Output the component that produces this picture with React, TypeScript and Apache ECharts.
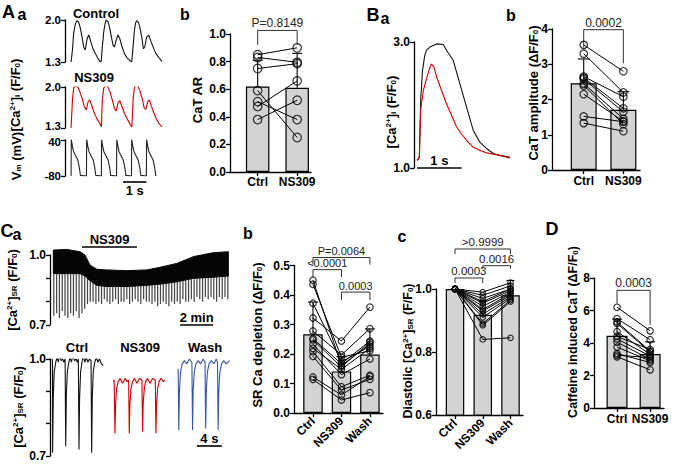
import React, { useEffect, useRef } from 'react';
import * as echarts from 'echarts';

const FONT = '"Liberation Sans", Arial, Helvetica, sans-serif';

// ===== Panel A a : traces (time s, value F/F0 or mV) =====
const aaControlTrace = [
  [0, 1.30], [0.06, 1.50], [0.11, 1.78], [0.19, 1.94], [0.26, 1.99], [0.33, 1.96], [0.40, 1.86], [0.47, 1.72], [0.54, 1.55], [0.61, 1.50], [0.69, 1.69], [0.76, 1.75], [0.83, 1.66], [0.94, 1.52], [1.04, 1.44], [1.14, 1.37], [1.23, 1.31],
  [1.29, 1.30], [1.34, 1.55], [1.40, 1.80], [1.46, 1.94], [1.51, 2.00], [1.59, 1.97], [1.66, 1.86], [1.73, 1.72], [1.80, 1.58], [1.86, 1.55], [1.93, 1.66], [2.01, 1.75], [2.09, 1.69], [2.19, 1.55], [2.29, 1.44], [2.40, 1.37], [2.54, 1.32],
  [2.60, 1.30], [2.66, 1.55], [2.71, 1.80], [2.76, 1.94], [2.81, 1.99], [2.89, 1.96], [2.96, 1.86], [3.03, 1.72], [3.10, 1.52], [3.16, 1.55], [3.24, 1.71], [3.33, 1.75], [3.41, 1.66], [3.53, 1.54], [3.64, 1.44], [3.77, 1.37], [3.90, 1.31],
];
const aaNs309Trace = [
  [0, 1.30], [0.06, 1.78], [0.11, 1.98], [0.20, 2.03], [0.29, 2.00], [0.37, 1.93], [0.47, 1.81], [0.57, 1.66], [0.66, 1.61], [0.73, 1.75], [0.80, 1.78], [0.89, 1.68], [1.00, 1.55], [1.11, 1.46], [1.23, 1.38], [1.30, 1.32],
  [1.34, 1.78], [1.40, 1.98], [1.49, 2.04], [1.57, 2.01], [1.66, 1.93], [1.76, 1.79], [1.86, 1.64], [1.94, 1.59], [2.01, 1.73], [2.09, 1.77], [2.17, 1.68], [2.29, 1.55], [2.40, 1.46], [2.54, 1.36], [2.61, 1.32],
  [2.66, 1.78], [2.71, 1.98], [2.79, 2.04], [2.87, 2.01], [2.96, 1.93], [3.06, 1.78], [3.14, 1.64], [3.21, 1.62], [3.29, 1.75], [3.36, 1.78], [3.44, 1.68], [3.56, 1.55], [3.69, 1.43], [3.80, 1.36], [3.90, 1.32],
];
const aaVmTrace = [
  [0, -80], [0.01, 42], [0.06, 18], [0.11, 1], [0.2, -13], [0.29, -27], [0.36, -54], [0.4, -78], [0.66, -80],
  [0.67, 42], [0.72, 18], [0.77, 1], [0.86, -13], [0.95, -27], [1.02, -54], [1.06, -78], [1.30, -80],
  [1.31, 42], [1.36, 18], [1.41, 1], [1.50, -13], [1.59, -27], [1.66, -54], [1.70, -78], [1.95, -80],
  [1.96, 42], [2.01, 18], [2.06, 1], [2.15, -13], [2.24, -27], [2.31, -54], [2.35, -78], [2.59, -80],
  [2.60, 42], [2.65, 18], [2.70, 1], [2.79, -13], [2.88, -27], [2.95, -54], [2.99, -78], [3.23, -80],
  [3.24, 42], [3.29, 18], [3.34, 1], [3.43, -13], [3.52, -27], [3.59, -54], [3.63, -78], [3.66, -80],
];
const aaCaTicks = [1.3, 2.0];
const aaVmTicks = [-80, 40];

// ===== Panel A b =====
const abGroups = ['Ctrl', 'NS309'];
const abMeans = [0.62, 0.61];
const abSd = [0.19, 0.25];
const abCtrl = [0.85, 0.83, 0.75, 0.59, 0.51, 0.475, 0.38];
const abNs309 = [0.90, 0.795, 0.785, 0.25, 0.38, 0.66, 0.52];
const abTicks = [0, 0.2, 0.4, 0.6, 0.8, 1.0];

// ===== Panel B a =====
const baCtrlTrace = [
  [0, 1.12], [0.05, 1.17], [0.08, 2.07], [0.12, 2.54], [0.17, 2.78], [0.21, 2.87], [0.29, 2.92], [0.44, 2.97], [0.59, 2.96], [0.66, 2.87], [0.81, 2.71], [0.96, 2.34], [1.11, 1.97], [1.26, 1.60], [1.41, 1.41], [1.56, 1.31], [1.71, 1.23], [1.86, 1.20], [2.09, 1.17],
];
const baNs309Trace = [
  [0, 1.12], [0.05, 1.17], [0.08, 1.92], [0.14, 2.23], [0.21, 2.42], [0.29, 2.60], [0.32, 2.65], [0.38, 2.60], [0.44, 2.44], [0.55, 2.23], [0.66, 2.02], [0.77, 1.84], [0.89, 1.65], [1.00, 1.54], [1.11, 1.44], [1.26, 1.33], [1.41, 1.28], [1.56, 1.24], [1.71, 1.22], [1.86, 1.20], [2.09, 1.16],
];
const baTicks = [1.0, 3.0];

// ===== Panel B b =====
const bbGroups = ['Ctrl', 'NS309'];
const bbMeans = [2.46, 1.71];
const bbSd = [0.69, 0.51];
const bbCtrl = [3.55, 3.30, 2.65, 2.62, 2.58, 2.45, 2.15, 2.40, 1.52, 1.33];
const bbNs309 = [2.80, 2.20, 2.08, 1.75, 1.65, 1.45, 1.38, 1.30, 1.37, 1.10];
const bbTicks = [0, 1, 2, 3, 4];

// ===== Panel C a =====
const caEnvTime = [0.02, 0.83, 1.64, 1.94, 2.24, 2.65, 3.25, 4.47, 5.68, 6.48, 7.5, 8.5, 9.72, 10.62];
const caEnvUpper = [1.021, 1.024, 1.014, 1.0, 0.957, 0.939, 0.936, 0.933, 0.936, 0.947, 0.964, 0.993, 1.01, 1.014];
const caEnvLower = [0.92, 0.92, 0.92, 0.91, 0.89, 0.87, 0.865, 0.865, 0.87, 0.875, 0.885, 0.9, 0.905, 0.91];
const caSpikeTime = [0.05, 0.22, 0.39, 0.56, 0.73, 0.9, 1.07, 1.24, 1.41, 1.58, 1.75, 1.92, 2.09, 2.26, 2.43, 2.6, 2.77, 2.94, 3.11, 3.28, 3.45, 3.62, 3.79, 3.96, 4.13, 4.3, 4.47, 4.64, 4.81, 4.98, 5.15, 5.32, 5.49, 5.66, 5.83, 6.0, 6.17, 6.34, 6.51, 6.68, 6.85, 7.02, 7.19, 7.36, 7.53, 7.7, 7.87, 8.04, 8.21, 8.38, 8.55, 8.72, 8.89, 9.06, 9.23, 9.4, 9.57, 9.74, 9.91, 10.08, 10.25, 10.42, 10.59];
const caSpikeMin = [0.74, 0.75, 0.73, 0.76, 0.74, 0.73, 0.75, 0.74, 0.76, 0.73, 0.75, 0.77,
  0.79, 0.80, 0.80, 0.79,
  0.80, 0.79, 0.81, 0.80, 0.79, 0.80, 0.81, 0.79, 0.80, 0.80, 0.81, 0.79, 0.80, 0.81, 0.80, 0.79, 0.81, 0.80, 0.80,
  0.79, 0.80, 0.78, 0.79, 0.80, 0.79, 0.78, 0.80, 0.79, 0.80, 0.79, 0.81, 0.80,
  0.80, 0.81, 0.80, 0.82, 0.81, 0.80, 0.82, 0.81, 0.82, 0.81, 0.80, 0.82, 0.81, 0.82, 0.81];
const caDrugBar = [1.76, 5.09, 1.034];
const caTopScale = [7.7, 9.7, 0.7];
const caTicks = [0.7, 0.8, 0.9, 1.0];
const caLabels = [0.7, 1.0];
const caCtrlTrace = [
  [0, 1.0], [0.08, 0.995], [0.1, 0.71], [0.2, 0.88], [0.35, 0.96], [0.6, 0.99], [0.8, 1.005], [1.0, 0.99], [1.2, 1.01], [1.45, 0.995], [1.7, 1.0], [1.9, 0.99], [2.1, 1.0],
  [2.19, 0.73], [2.3, 0.89], [2.45, 0.96], [2.7, 0.99], [2.9, 1.005], [3.1, 0.99], [3.35, 1.01], [3.6, 0.995], [3.85, 1.0], [4.05, 0.99], [4.22, 1.0],
  [4.32, 0.72], [4.42, 0.88], [4.58, 0.96], [4.8, 0.99], [5.0, 1.01], [5.25, 0.99], [5.5, 1.005], [5.75, 0.99], [6.0, 1.0], [6.25, 0.995],
  [6.35, 0.71], [6.45, 0.88], [6.6, 0.96], [6.85, 0.99], [7.1, 1.005], [7.35, 0.99], [7.6, 1.0], [7.9, 0.985], [8.2, 0.98],
];
const caNs309Trace = [
  [9.8, 0.93], [9.95, 0.935], [10.08, 0.77], [10.18, 0.86], [10.35, 0.91], [10.6, 0.93], [10.9, 0.94], [11.3, 0.925], [11.7, 0.94], [12.05, 0.93], [12.27, 0.935],
  [12.37, 0.77], [12.47, 0.86], [12.65, 0.91], [12.9, 0.93], [13.2, 0.94], [13.6, 0.925], [14.0, 0.94], [14.4, 0.935],
  [14.5, 0.775], [14.6, 0.86], [14.78, 0.91], [15.0, 0.93], [15.3, 0.94], [15.7, 0.925], [16.1, 0.94], [16.54, 0.935],
  [16.64, 0.77], [16.74, 0.86], [16.92, 0.91], [17.15, 0.93], [17.45, 0.94], [17.8, 0.93], [18.08, 0.935],
];
const caWashTrace = [
  [20.2, 0.97], [20.3, 0.78], [20.4, 0.9], [20.58, 0.96], [20.85, 0.985], [21.2, 0.995], [21.6, 0.985], [22.0, 1.0], [22.4, 0.99],
  [22.5, 0.78], [22.6, 0.9], [22.78, 0.96], [23.05, 0.985], [23.4, 0.995], [23.8, 0.985], [24.2, 1.0], [24.5, 0.99],
  [24.6, 0.785], [24.7, 0.9], [24.88, 0.96], [25.15, 0.985], [25.5, 0.995], [25.9, 0.985], [26.3, 1.0], [26.5, 0.99],
  [26.6, 0.78], [26.7, 0.9], [26.88, 0.96], [27.15, 0.985], [27.5, 0.995], [27.9, 0.985], [28.45, 0.995],
];
const caBottomScale = [23.2, 27.2, 0.731];

// ===== Panel C b =====
const cbGroups = ['Ctrl', 'NS309', 'Wash'];
const cbMeans = [0.267, 0.141, 0.198];
const cbSd = [0.109, 0.05, 0.087];
const cbCtrl = [0.45, 0.436, 0.372, 0.322, 0.278, 0.252, 0.248, 0.233, 0.219, 0.208, 0.192, 0.122, 0.114];
const cbNs309 = [0.161, 0.189, 0.174, 0.244, 0.197, 0.167, 0.156, 0.130, 0.148, 0.089, 0.078, 0.061, 0.044];
const cbWash = [0.233, 0.211, 0.225, 0.359, 0.286, 0.244, 0.24, 0.183, 0.219, 0.128, 0.114, 0.124, 0.069];
const cbTicks = [0, 0.1, 0.2, 0.3, 0.4, 0.5];

// ===== Panel C c =====
const ccGroups = ['Ctrl', 'NS309', 'Wash'];
const ccMeans = [1.0, 0.918, 0.98];
const ccSd = [0, 0.045, 0.047];
const ccCtrl = [1, 1, 1, 1, 1, 1, 1, 1, 1, 1, 1, 1, 1];
const ccNs309 = [0.99, 0.98, 0.97, 0.96, 0.955, 0.945, 0.935, 0.93, 0.92, 0.91, 0.89, 0.885, 0.84];
const ccWash = [1.02, 1.01, 1.0, 1.0, 0.995, 0.99, 0.985, 0.98, 0.975, 0.97, 0.965, 0.96, 0.845];
const ccTicks = [0.6, 0.8, 1.0];

// ===== Panel D =====
const dGroups = ['Ctrl', 'NS309'];
const dMeans = [4.45, 3.32];
const dSd = [1.02, 0.75];
const dCtrl = [6.2, 5.5, 5.3, 5.2, 4.7, 4.4, 4.25, 4.05, 3.75, 3.35, 3.25, 3.15];
const dNs309 = [4.75, 4.2, 3.5, 3.45, 3.3, 3.6, 3.2, 3.0, 2.9, 2.8, 3.1, 2.35];
const dTicks = [0, 2, 4, 6, 8];

// ===== helpers =====
type Bracket = { from: number; to: number; y: number; arms: number[]; text: string };

const LINE = { color: '#000', width: 1.3 };
const tickFont = { color: '#000', fontSize: 12, fontWeight: 'bold', fontFamily: FONT };

function yAxisCfg(gi: number, min: number, max: number, ticks: number[], labels: number[], digits: number, shift: Record<string, number> = {}, fontSize = 12) {
  const rich: any = {
    up: { fontSize, fontWeight: 'bold', fontFamily: FONT, color: '#000', padding: [0, 0, 4, 0] },
    dn: { fontSize, fontWeight: 'bold', fontFamily: FONT, color: '#000', padding: [4, 0, 0, 0] },
  };
  return {
    type: 'value', gridIndex: gi, min, max,
    axisLine: { show: true, onZero: false, lineStyle: LINE },
    axisTick: { show: true, inside: false, length: 4, customValues: ticks, lineStyle: LINE },
    axisLabel: {
      show: true, ...tickFont, fontSize, margin: 4, customValues: labels, rich,
      formatter: (v: number) => {
        const s = Number(v).toFixed(digits);
        const k = shift[s];
        return k === 1 ? '{up|' + s + '}' : k === -1 ? '{dn|' + s + '}' : s;
      },
    },
    splitLine: { show: false },
  };
}
function hiddenX(gi: number, min: number, max: number) {
  return { type: 'value', gridIndex: gi, min, max, show: false, splitLine: { show: false } };
}

function traceSeries(gi: number, data: number[][], color: string) {
  return {
    type: 'line', xAxisIndex: gi, yAxisIndex: gi, data, showSymbol: false, symbol: 'none',
    lineStyle: { color, width: 1.1 }, silent: true, z: 3,
  };
}

function annotSeries(gi: number, bar: number[], text: string, above: boolean, width = 1.6) {
  return {
    type: 'custom', xAxisIndex: gi, yAxisIndex: gi, clip: false, silent: true, z: 6,
    data: [bar],
    renderItem: (_p: any, api: any) => {
      const a = api.coord([api.value(0), api.value(2)]);
      const b = api.coord([api.value(1), api.value(2)]);
      return {
        type: 'group',
        children: [
          { type: 'line', shape: { x1: a[0], y1: a[1], x2: b[0], y2: b[1] }, style: { stroke: '#000', lineWidth: width } },
          {
            type: 'text', x: (a[0] + b[0]) / 2, y: above ? a[1] - 1 : a[1] + 2,
            style: { text, fill: '#000', fontSize: 13, fontWeight: 'bold', fontFamily: FONT, align: 'center', verticalAlign: above ? 'bottom' : 'top', textAlign: 'center', textVerticalAlign: above ? 'bottom' : 'top' },
          },
        ],
      };
    },
  };
}

interface BarCfg {
  names: string[]; means: number[]; sd: number[]; groups: number[][];
  xMin: number; xMax: number; yMin: number; yMax: number; ticks: number[]; digits: number;
  barWidth: number; symbolSize: number; rotate: number; labelMargin: number; brackets: Bracket[]; capHalf: number; pFont: number;
}

function barPanel(gi: number, p: BarCfg) {
  const cats = p.names.map((_, i) => i + 1);
  const rows = p.groups[0].map((_, k) => p.groups.map((g) => g[k]));
  const pts: number[][] = [];
  p.groups.forEach((g, i) => g.forEach((v) => pts.push([i + 1, v])));
  const xAxis = {
    type: 'value', gridIndex: gi, min: p.xMin, max: p.xMax,
    axisLine: { show: true, onZero: false, lineStyle: LINE },
    axisTick: { show: true, length: 4, customValues: cats, lineStyle: LINE },
    axisLabel: { show: true, ...tickFont, customValues: cats, rotate: p.rotate, margin: p.labelMargin, formatter: (v: number) => p.names[Math.round(v) - 1] || '' },
    splitLine: { show: false },
  };
  const yAxis = yAxisCfg(gi, p.yMin, p.yMax, p.ticks, p.ticks, p.digits);
  const common = { xAxisIndex: gi, yAxisIndex: gi, silent: true };
  const series: any[] = [
    {
      type: 'bar', ...common, data: p.means.map((m, i) => [i + 1, m]), barWidth: p.barWidth, z: 2,
      itemStyle: { color: '#d3d3d3', borderColor: '#000', borderWidth: 1.2 },
    },
    {
      type: 'custom', ...common, clip: false, z: 3,
      data: p.means.map((m, i) => [i + 1, m, p.sd[i]]),
      renderItem: (_params: any, api: any) => {
        const x = api.value(0), m = api.value(1), s = api.value(2);
        if (!(s > 0)) return null;
        const a = api.coord([x, m]);
        const b = api.coord([x, m + s]);
        return {
          type: 'group',
          children: [
            { type: 'line', shape: { x1: a[0], y1: a[1], x2: b[0], y2: b[1] }, style: { stroke: '#000', lineWidth: 1.1 } },
            { type: 'line', shape: { x1: b[0] - p.capHalf, y1: b[1], x2: b[0] + p.capHalf, y2: b[1] }, style: { stroke: '#000', lineWidth: 1.1 } },
          ],
        };
      },
    },
    {
      type: 'custom', ...common, clip: false, z: 4,
      data: rows,
      renderItem: (_params: any, api: any) => {
        const points: number[][] = [];
        for (let i = 0; i < cats.length; i++) points.push(api.coord([i + 1, api.value(i)]));
        return { type: 'polyline', shape: { points }, style: { stroke: '#000', lineWidth: 1, fill: 'none' } };
      },
    },
    {
      type: 'scatter', ...common, clip: false, z: 5, data: pts, symbol: 'circle', symbolSize: p.symbolSize,
      itemStyle: { color: 'rgba(255,255,255,0)', borderColor: '#000', borderWidth: 1.2 },
    },
    {
      type: 'custom', ...common, clip: false, z: 5,
      data: p.brackets.map((b) => [b.from, b.y]),
      renderItem: (params: any, api: any) => {
        const b = p.brackets[params.dataIndex];
        const A = api.coord([b.from, b.arms[0]]);
        const B = api.coord([b.from, b.y]);
        const C = api.coord([b.to, b.y]);
        const D = api.coord([b.to, b.arms[1]]);
        return {
          type: 'group',
          children: [
            { type: 'polyline', shape: { points: [A, B, C, D] }, style: { stroke: '#333', lineWidth: 1, fill: 'none' } },
            {
              type: 'text', x: (B[0] + C[0]) / 2, y: B[1] - 1,
              style: { text: b.text, fill: '#222', fontSize: p.pFont, fontFamily: FONT, align: 'center', verticalAlign: 'bottom', textAlign: 'center', textVerticalAlign: 'bottom' },
            },
          ],
        };
      },
    },
  ];
  return { xAxis, yAxis, series };
}

const RICH = {
  sup: { fontSize: 8, fontWeight: 'bold', fontFamily: FONT, fill: '#000', color: '#000', verticalAlign: 'top' },
  sub: { fontSize: 8, fontWeight: 'bold', fontFamily: FONT, fill: '#000', color: '#000', verticalAlign: 'bottom' },
};

function txt(x: number, y: number, text: string, size: number, opts: any = {}) {
  return {
    type: 'text', x, y, rotation: opts.rotate ? Math.PI / 2 : 0, silent: true, z: 10,
    style: {
      text, fill: '#000', fontSize: size, fontWeight: opts.weight || 'bold', fontFamily: FONT,
      align: 'center', verticalAlign: 'middle', textAlign: 'center', textVerticalAlign: 'middle', rich: RICH,
    },
  };
}

function buildOption() {
  const grids = [
    { left: 65, top: 20, width: 97, height: 42 }, // 0 Aa control
    { left: 65, top: 87, width: 97, height: 41 }, // 1 Aa NS309
    { left: 65, top: 140, width: 97, height: 36 }, // 2 Aa Vm
    { left: 230, top: 34, width: 81, height: 138 }, // 3 Ab
    { left: 414, top: 42, width: 101, height: 126 }, // 4 Ba
    { left: 552, top: 29, width: 88, height: 141 }, // 5 Bb
    { left: 50, top: 255, width: 178, height: 70 }, // 6 Ca top
    { left: 50, top: 359, width: 180, height: 97 }, // 7 Ca bottom
    { left: 294, top: 265.5, width: 89, height: 147.5 }, // 8 Cb
    { left: 436, top: 289, width: 87, height: 126 }, // 9 Cc
    { left: 594, top: 278, width: 70, height: 130 }, // 10 D
  ].map((g) => ({ ...g, containLabel: false, outerBoundsMode: 'none', show: false }));

  const xAxis: any[] = [];
  const yAxis: any[] = [];
  const series: any[] = [];

  // Aa
  xAxis[0] = hiddenX(0, -0.26, 3.9);
  yAxis[0] = yAxisCfg(0, 1.3, 2.0, aaCaTicks, aaCaTicks, 1, {}, 11.5);
  xAxis[1] = hiddenX(1, -0.26, 3.9);
  yAxis[1] = yAxisCfg(1, 1.3, 2.0, aaCaTicks, aaCaTicks, 1, { '1.3': 1 }, 11.5);
  xAxis[2] = hiddenX(2, -0.26, 3.9);
  yAxis[2] = yAxisCfg(2, -80, 40, aaVmTicks, aaVmTicks, 0, { '40': -1 }, 11.5);
  series.push(traceSeries(0, aaControlTrace, '#111'));
  series.push(traceSeries(1, aaNs309Trace, '#d40000'));
  series.push(traceSeries(2, aaVmTrace, '#222'));
  series.push(annotSeries(2, [2.23, 3.23, -100], '1 s', false));

  // Ab
  const ab = barPanel(3, {
    names: abGroups, means: abMeans, sd: abSd, groups: [abCtrl, abNs309],
    xMin: 0.3, xMax: 2.35, yMin: 0, yMax: 1, ticks: abTicks, digits: 1,
    barWidth: 23.5, symbolSize: 8.5, rotate: 0, labelMargin: 4, capHalf: 5, pFont: 12,
    brackets: [{ from: 1, to: 2, y: 1.026, arms: [0.92, 0.92], text: 'P=0.8149' }],
  });
  xAxis[3] = ab.xAxis; yAxis[3] = ab.yAxis; series.push(...ab.series);

  // Ba
  xAxis[4] = hiddenX(4, -0.07, 2.2);
  yAxis[4] = yAxisCfg(4, 1.0, 3.0, baTicks, baTicks, 1);
  series.push(traceSeries(4, baCtrlTrace, '#111'));
  series.push(traceSeries(4, baNs309Trace, '#d40000'));
  series.push(annotSeries(4, [0, 1.0, 1.0], '1 s', true, 1.3));

  // Bb
  const bb = barPanel(5, {
    names: bbGroups, means: bbMeans, sd: bbSd, groups: [bbCtrl, bbNs309],
    xMin: 0.2, xMax: 2.42, yMin: 0, yMax: 4, ticks: bbTicks, digits: 0,
    barWidth: 26, symbolSize: 7.5, rotate: 0, labelMargin: 5, capHalf: 6, pFont: 12,
    brackets: [{ from: 1, to: 2, y: 3.98, arms: [3.47, 3.03], text: '0.0002' }],
  });
  xAxis[5] = bb.xAxis; yAxis[5] = bb.yAxis; series.push(...bb.series);

  // Ca top
  xAxis[6] = hiddenX(6, -0.18, 10.6);
  yAxis[6] = yAxisCfg(6, 0.7, 1.0, caTicks, caLabels, 1);
  series.push({
    type: 'custom', xAxisIndex: 6, yAxisIndex: 6, clip: false, silent: true, z: 2,
    data: caSpikeTime.map((t, i) => [t, caSpikeMin[i]]),
    renderItem: (_p: any, api: any) => {
      const a = api.coord([api.value(0), 0.92]);
      const b = api.coord([api.value(0), api.value(1)]);
      return { type: 'line', shape: { x1: a[0], y1: a[1], x2: b[0], y2: b[1] }, style: { stroke: '#484848', lineWidth: 1.25 } };
    },
  });
  series.push({
    type: 'custom', xAxisIndex: 6, yAxisIndex: 6, clip: false, silent: true, z: 3,
    data: [[caEnvTime[0], caEnvUpper[0]]],
    renderItem: (_p: any, api: any) => {
      const up = caEnvTime.map((t, i) => api.coord([t, caEnvUpper[i]]));
      const lo = caEnvTime.map((t, i) => api.coord([t, caEnvLower[i]])).reverse();
      return { type: 'polygon', shape: { points: up.concat(lo) }, style: { fill: '#050505', stroke: '#050505', lineWidth: 1 } };
    },
  });
  series.push(annotSeries(6, caDrugBar, 'NS309', true, 1.4));
  series.push(annotSeries(6, caTopScale, '2 min', true, 1.6));

  // Ca bottom
  xAxis[7] = hiddenX(7, -0.32, 28.5);
  yAxis[7] = yAxisCfg(7, 0.7, 1.0, caTicks, caLabels, 1);
  series.push(traceSeries(7, caCtrlTrace, '#111'));
  series.push(traceSeries(7, caNs309Trace, '#d40000'));
  series.push(traceSeries(7, caWashTrace, '#3556a8'));
  series.push(annotSeries(7, caBottomScale, '4 s', true, 1.6));

  // Cb
  const cb = barPanel(8, {
    names: cbGroups, means: cbMeans, sd: cbSd, groups: [cbCtrl, cbNs309, cbWash],
    xMin: 0.333, xMax: 3.46, yMin: 0, yMax: 0.5, ticks: cbTicks, digits: 1,
    barWidth: 19.5, symbolSize: 6.5, rotate: 45, labelMargin: 6, capHalf: 5, pFont: 11,
    brackets: [
      { from: 1, to: 3, y: 0.527, arms: [0.503, 0.503], text: 'P=0.0064' },
      { from: 1, to: 2, y: 0.486, arms: [0.461, 0.461], text: '<0.0001' },
      { from: 2, to: 3, y: 0.41, arms: [0.383, 0.383], text: '0.0003' },
    ],
  });
  xAxis[8] = cb.xAxis; yAxis[8] = cb.yAxis; series.push(...cb.series);

  // Cc
  const cc = barPanel(9, {
    names: ccGroups, means: ccMeans, sd: ccSd, groups: [ccCtrl, ccNs309, ccWash],
    xMin: 0.315, xMax: 3.45, yMin: 0.6, yMax: 1.0, ticks: ccTicks, digits: 1,
    barWidth: 18.5, symbolSize: 5.5, rotate: 45, labelMargin: 6, capHalf: 4, pFont: 11.5,
    brackets: [
      { from: 1, to: 3, y: 1.127, arms: [1.111, 1.111], text: '>0.9999' },
      { from: 2, to: 3, y: 1.074, arms: [1.064, 1.064], text: '0.0016' },
      { from: 1, to: 2, y: 1.035, arms: [1.019, 1.019], text: '0.0003' },
    ],
  });
  xAxis[9] = cc.xAxis; yAxis[9] = cc.yAxis; series.push(...cc.series);

  // D
  const dd = barPanel(10, {
    names: dGroups, means: dMeans, sd: dSd, groups: [dCtrl, dNs309],
    xMin: 0.303, xMax: 2.42, yMin: 0, yMax: 8, ticks: dTicks, digits: 0,
    barWidth: 21, symbolSize: 6.5, rotate: 0, labelMargin: 5, capHalf: 5, pFont: 12,
    brackets: [{ from: 1, to: 2, y: 7.24, arms: [6.46, 5.12], text: '0.0003' }],
  });
  xAxis[10] = dd.xAxis; yAxis[10] = dd.yAxis; series.push(...dd.series);

  const graphic = [
    // panel letters
    txt(8.5, 12, 'A', 18), txt(22, 14, 'a', 16), txt(185, 14, 'b', 16),
    txt(373, 15, 'B', 18), txt(385, 18, 'a', 16), txt(511, 15, 'b', 16),
    txt(7, 231, 'C', 18), txt(17, 234, 'a', 16), txt(248, 233, 'b', 16), txt(402, 236, 'c', 16),
    txt(552, 229, 'D', 18),
    // trace titles
    txt(96, 13, 'Control', 13), txt(94, 77, 'NS309', 13),
    txt(77, 347, 'Ctrl', 13), txt(140, 347, 'NS309', 13), txt(205, 347, 'Wash', 13),
    // axis titles
    txt(15, 95, '[Ca{sup|2+}]{sub|i} (F/F{sub|0})', 13, { rotate: true }),
    txt(16, 156, 'V{sub|m} (mV)', 13, { rotate: true }),
    txt(197, 100, 'CaT AR', 13, { rotate: true }),
    txt(391, 112, '[Ca{sup|2+}]{sub|i} (F/F{sub|0})', 13, { rotate: true }),
    txt(533, 93, 'CaT amplitude (ΔF/F{sub|0})', 13, { rotate: true }),
    txt(12, 290, '[Ca{sup|2+}]{sub|SR} (F/F{sub|0})', 13, { rotate: true }),
    txt(18, 407, '[Ca{sup|2+}]{sub|SR} (F/F{sub|0})', 13, { rotate: true }),
    txt(257, 335, 'SR Ca depletion (ΔF/F{sub|0})', 13, { rotate: true }),
    txt(408, 351, 'Diastolic [Ca{sup|2+}]{sub|SR} (F/F{sub|0})', 12.5, { rotate: true }),
    txt(573, 332, 'Caffeine induced CaT (ΔF/F{sub|0})', 12.5, { rotate: true }),
  ];

  return {
    animation: false,
    backgroundColor: '#fff',
    textStyle: { fontFamily: FONT },
    grid: grids,
    xAxis,
    yAxis,
    series,
    graphic,
  };
}

export default function App() {
  const ref = useRef<HTMLDivElement>(null);
  useEffect(() => {
    const chart = echarts.init(ref.current as HTMLDivElement, null, { renderer: 'svg' });
    chart.setOption(buildOption() as any);
    return () => chart.dispose();
  }, []);
  return <div ref={ref} style={{ position: 'fixed', left: 0, top: 0, width: 675, height: 465, background: '#fff' }} />;
}
